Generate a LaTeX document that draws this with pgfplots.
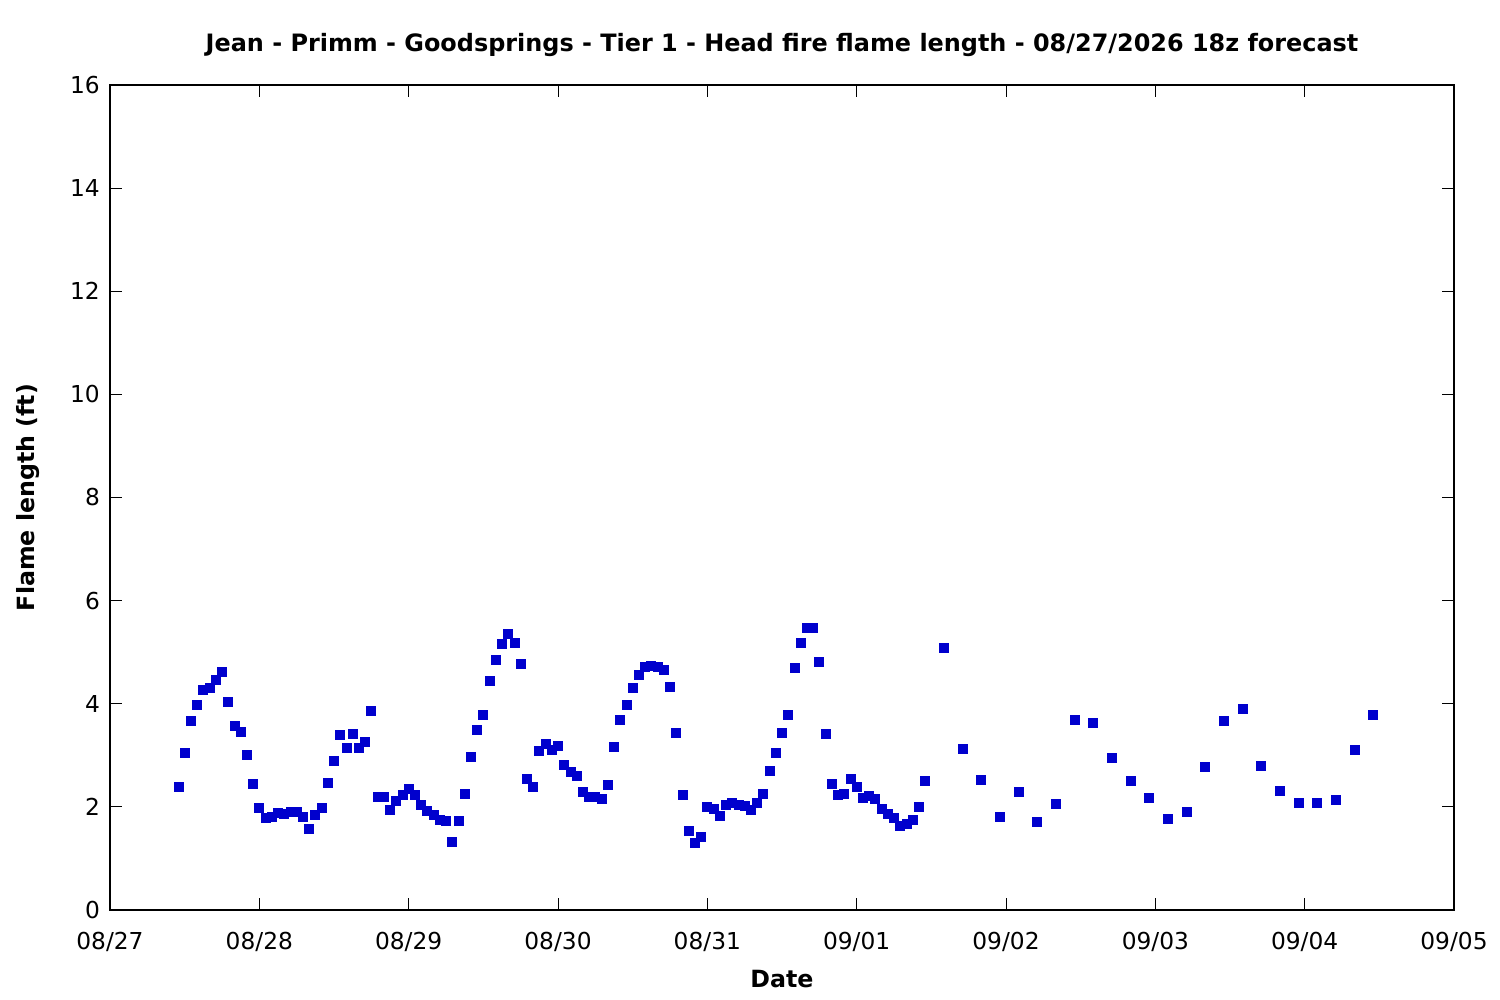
\documentclass[border=0pt]{standalone}
\usepackage{fontspec}
\setmainfont{DejaVu Sans}
\usepackage{pgfplots}
\pgfplotsset{compat=1.18}
\definecolor{ptblue}{RGB}{0,0,205}
\begin{document}
\fontsize{11.7}{14}\selectfont
\begin{tikzpicture}
\path[use as bounding box] (-55bp,-45bp) rectangle (695bp,455bp);
\begin{axis}[
  at={(0,0)}, anchor=south west,
  scale only axis,
  width=672bp, height=412.5bp,
  xmin=0, xmax=216, ymin=0, ymax=16,
  xtick={0,24,...,216},
  xticklabels={08/27,08/28,08/29,08/30,08/31,09/01,09/02,09/03,09/04,09/05},
  ytick={0,2,...,16},
  tick align=inside,
  major tick length=6bp,
  tick style={black, line width=0.5bp},
  axis line style={line width=0.6bp},
  /pgf/number format/assume math mode=true,
  ticklabel style={font=\fontsize{11.7}{14}\selectfont},
  xticklabel style={yshift=-7bp},
  yticklabel style={xshift=-1bp},
  title={\bfseries Jean - Primm - Goodsprings - Tier 1 - Head fire flame length - 08/27/2026 18z forecast},
  title style={font=\fontsize{12}{14}\selectfont, yshift=4bp},
  xlabel={\bfseries Date},
  ylabel={\bfseries Flame length (ft)},
  xlabel style={font=\fontsize{11.9}{14}\selectfont, yshift=-1.5bp},
  ylabel style={font=\fontsize{11.9}{14}\selectfont, yshift=7.5bp},
]
\addplot[only marks, mark=square*, mark size=2.25bp, color=ptblue, mark options={fill=ptblue, draw=ptblue}] table {
x y
11 2.39
12 3.04
13 3.67
14 3.98
15 4.27
16 4.31
17 4.46
18 4.62
19 4.03
20 3.57
21 3.45
22 3.01
23 2.44
24 1.98
25 1.78
26 1.80
27 1.88
28 1.86
29 1.90
30 1.90
31 1.80
32 1.57
33 1.84
34 1.98
35 2.46
36 2.89
37 3.39
38 3.14
39 3.41
40 3.14
41 3.26
42 3.86
43 2.19
44 2.19
45 1.94
46 2.11
47 2.23
48 2.35
49 2.23
50 2.04
51 1.92
52 1.84
53 1.75
54 1.73
55 1.32
56 1.73
57 2.25
58 2.97
59 3.49
60 3.78
61 4.44
62 4.85
63 5.16
64 5.35
65 5.18
66 4.77
67 2.54
68 2.39
69 3.08
70 3.22
71 3.10
72 3.18
73 2.81
74 2.68
75 2.60
76 2.29
77 2.19
78 2.19
79 2.15
80 2.42
81 3.16
82 3.69
83 3.98
84 4.31
85 4.56
86 4.71
87 4.73
88 4.71
89 4.65
90 4.33
91 3.43
92 2.23
93 1.53
94 1.30
95 1.42
96 2.00
97 1.96
98 1.82
99 2.04
100 2.08
101 2.04
102 2.02
103 1.94
104 2.08
105 2.25
106 2.70
107 3.04
108 3.43
109 3.78
110 4.69
111 5.18
112 5.47
113 5.47
114 4.81
115 3.41
116 2.44
117 2.23
118 2.25
119 2.54
120 2.39
121 2.17
122 2.21
123 2.15
124 1.96
125 1.86
126 1.78
127 1.63
128 1.67
129 1.75
130 2.00
131 2.50
134 5.08
137 3.12
140 2.52
143 1.80
146 2.29
149 1.71
152 2.06
155 3.69
158 3.63
161 2.95
164 2.50
167 2.17
170 1.76
173 1.90
176 2.77
179 3.67
182 3.90
185 2.79
188 2.31
191 2.08
194 2.08
197 2.13
200 3.10
203 3.78
};
\end{axis}
\end{tikzpicture}
\end{document}
